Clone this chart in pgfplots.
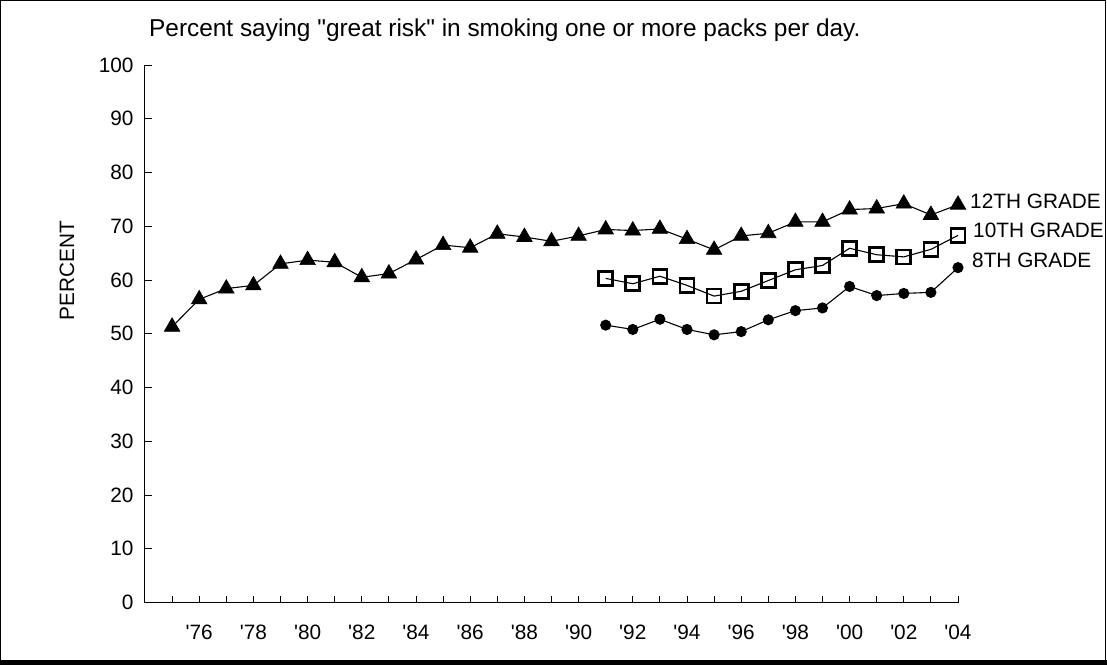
\documentclass[border=0pt]{standalone}
\usepackage{fontspec}
\setmainfont{Liberation Sans}
\usepackage{pgfplots}
\pgfplotsset{compat=1.18}
\begin{document}
\begin{tikzpicture}[x=1bp,y=1bp]
\begin{axis}[
  at={(0bp,0bp)}, anchor=origin,
  scale only axis,
  width=813bp, height=537.5bp,
  xmin=1974, xmax=2004, ymin=0, ymax=100,
  axis x line=bottom, axis y line=left,
  axis line style={-, line width=1bp},
  clip=false,
  tick align=inside,
  major tick length=6.7bp, minor tick length=6.7bp,
  every tick/.style={black, line width=0.9bp},
  ytick={0,10,...,100},
  xtick={1976,1978,...,2004},
  minor xtick={1975,1977,...,2003},
  xticklabels={\textquotesingle76,\textquotesingle78,\textquotesingle80,\textquotesingle82,\textquotesingle84,\textquotesingle86,\textquotesingle88,\textquotesingle90,\textquotesingle92,\textquotesingle94,\textquotesingle96,\textquotesingle98,\textquotesingle00,\textquotesingle02,\textquotesingle04},
  /pgf/number format/assume math mode=true,
  tick label style={font=\fontsize{20.8bp}{24bp}\selectfont},
  yticklabel style={xshift=-8bp},
  xticklabel style={yshift=-19bp},
]
\addplot[black, line width=1.1bp, mark=triangle*, mark size=9bp, mark options={solid, fill=black, line width=0.6bp}] coordinates {
(1975,51.3)(1976,56.4)(1977,58.4)(1978,59.0)(1979,63.0)(1980,63.7)(1981,63.3)(1982,60.5)(1983,61.2)(1984,63.8)
(1985,66.5)(1986,66.0)(1987,68.6)(1988,68.0)(1989,67.2)(1990,68.2)(1991,69.4)(1992,69.2)(1993,69.5)(1994,67.6)
(1995,65.6)(1996,68.2)(1997,68.7)(1998,70.8)(1999,70.8)(2000,73.1)(2001,73.3)(2002,74.2)(2003,72.1)(2004,74.0)
};
\addplot[black, line width=1.1bp, mark=square, mark size=7bp, mark options={solid, line width=2.7bp}] coordinates {
(1991,60.3)(1992,59.3)(1993,60.7)(1994,59.0)(1995,57.0)(1996,57.9)(1997,59.9)(1998,61.9)(1999,62.7)
(2000,65.9)(2001,64.7)(2002,64.3)(2003,65.7)(2004,68.3)
};
\addplot[black, line width=1.1bp, mark=*, mark size=5bp, mark options={solid, fill=black}] coordinates {
(1991,51.6)(1992,50.8)(1993,52.7)(1994,50.8)(1995,49.8)(1996,50.4)(1997,52.6)(1998,54.3)(1999,54.8)
(2000,58.8)(2001,57.1)(2002,57.5)(2003,57.7)(2004,62.3)
};
\node[anchor=base west, inner sep=0pt, font=\fontsize{24.4bp}{27bp}\selectfont] at (axis cs:1974,100) [xshift=4bp, yshift=28bp] {Percent saying \textquotedbl great risk\textquotedbl\ in smoking one or more packs per day.};
\node[xshift=-78bp, rotate=90, inner sep=0pt, font=\fontsize{20.8bp}{24bp}\selectfont] at (axis cs:1974,61.7) {PERCENT};
\node[anchor=west, inner sep=0pt, font=\fontsize{20.8bp}{24bp}\selectfont] at (axis cs:2004,74.7) [xshift=12bp] {12TH GRADE};
\node[anchor=west, inner sep=0pt, font=\fontsize{20.8bp}{24bp}\selectfont] at (axis cs:2004,69.3) [xshift=15bp] {10TH GRADE};
\node[anchor=west, inner sep=0pt, font=\fontsize{20.8bp}{24bp}\selectfont] at (axis cs:2004,63.6) [xshift=14bp] {8TH GRADE};
\end{axis}
\path[use as bounding box] (-145bp,-62.5bp) rectangle (962bp,602.5bp);
\draw[line width=1.3bp] (-144.3bp,-58bp) -- (-144.3bp,601.8bp) -- (960.3bp,601.8bp) -- (960.3bp,-58bp);
\fill[black] (-145bp,-62.5bp) rectangle (962bp,-57.5bp);
\end{tikzpicture}
\end{document}
